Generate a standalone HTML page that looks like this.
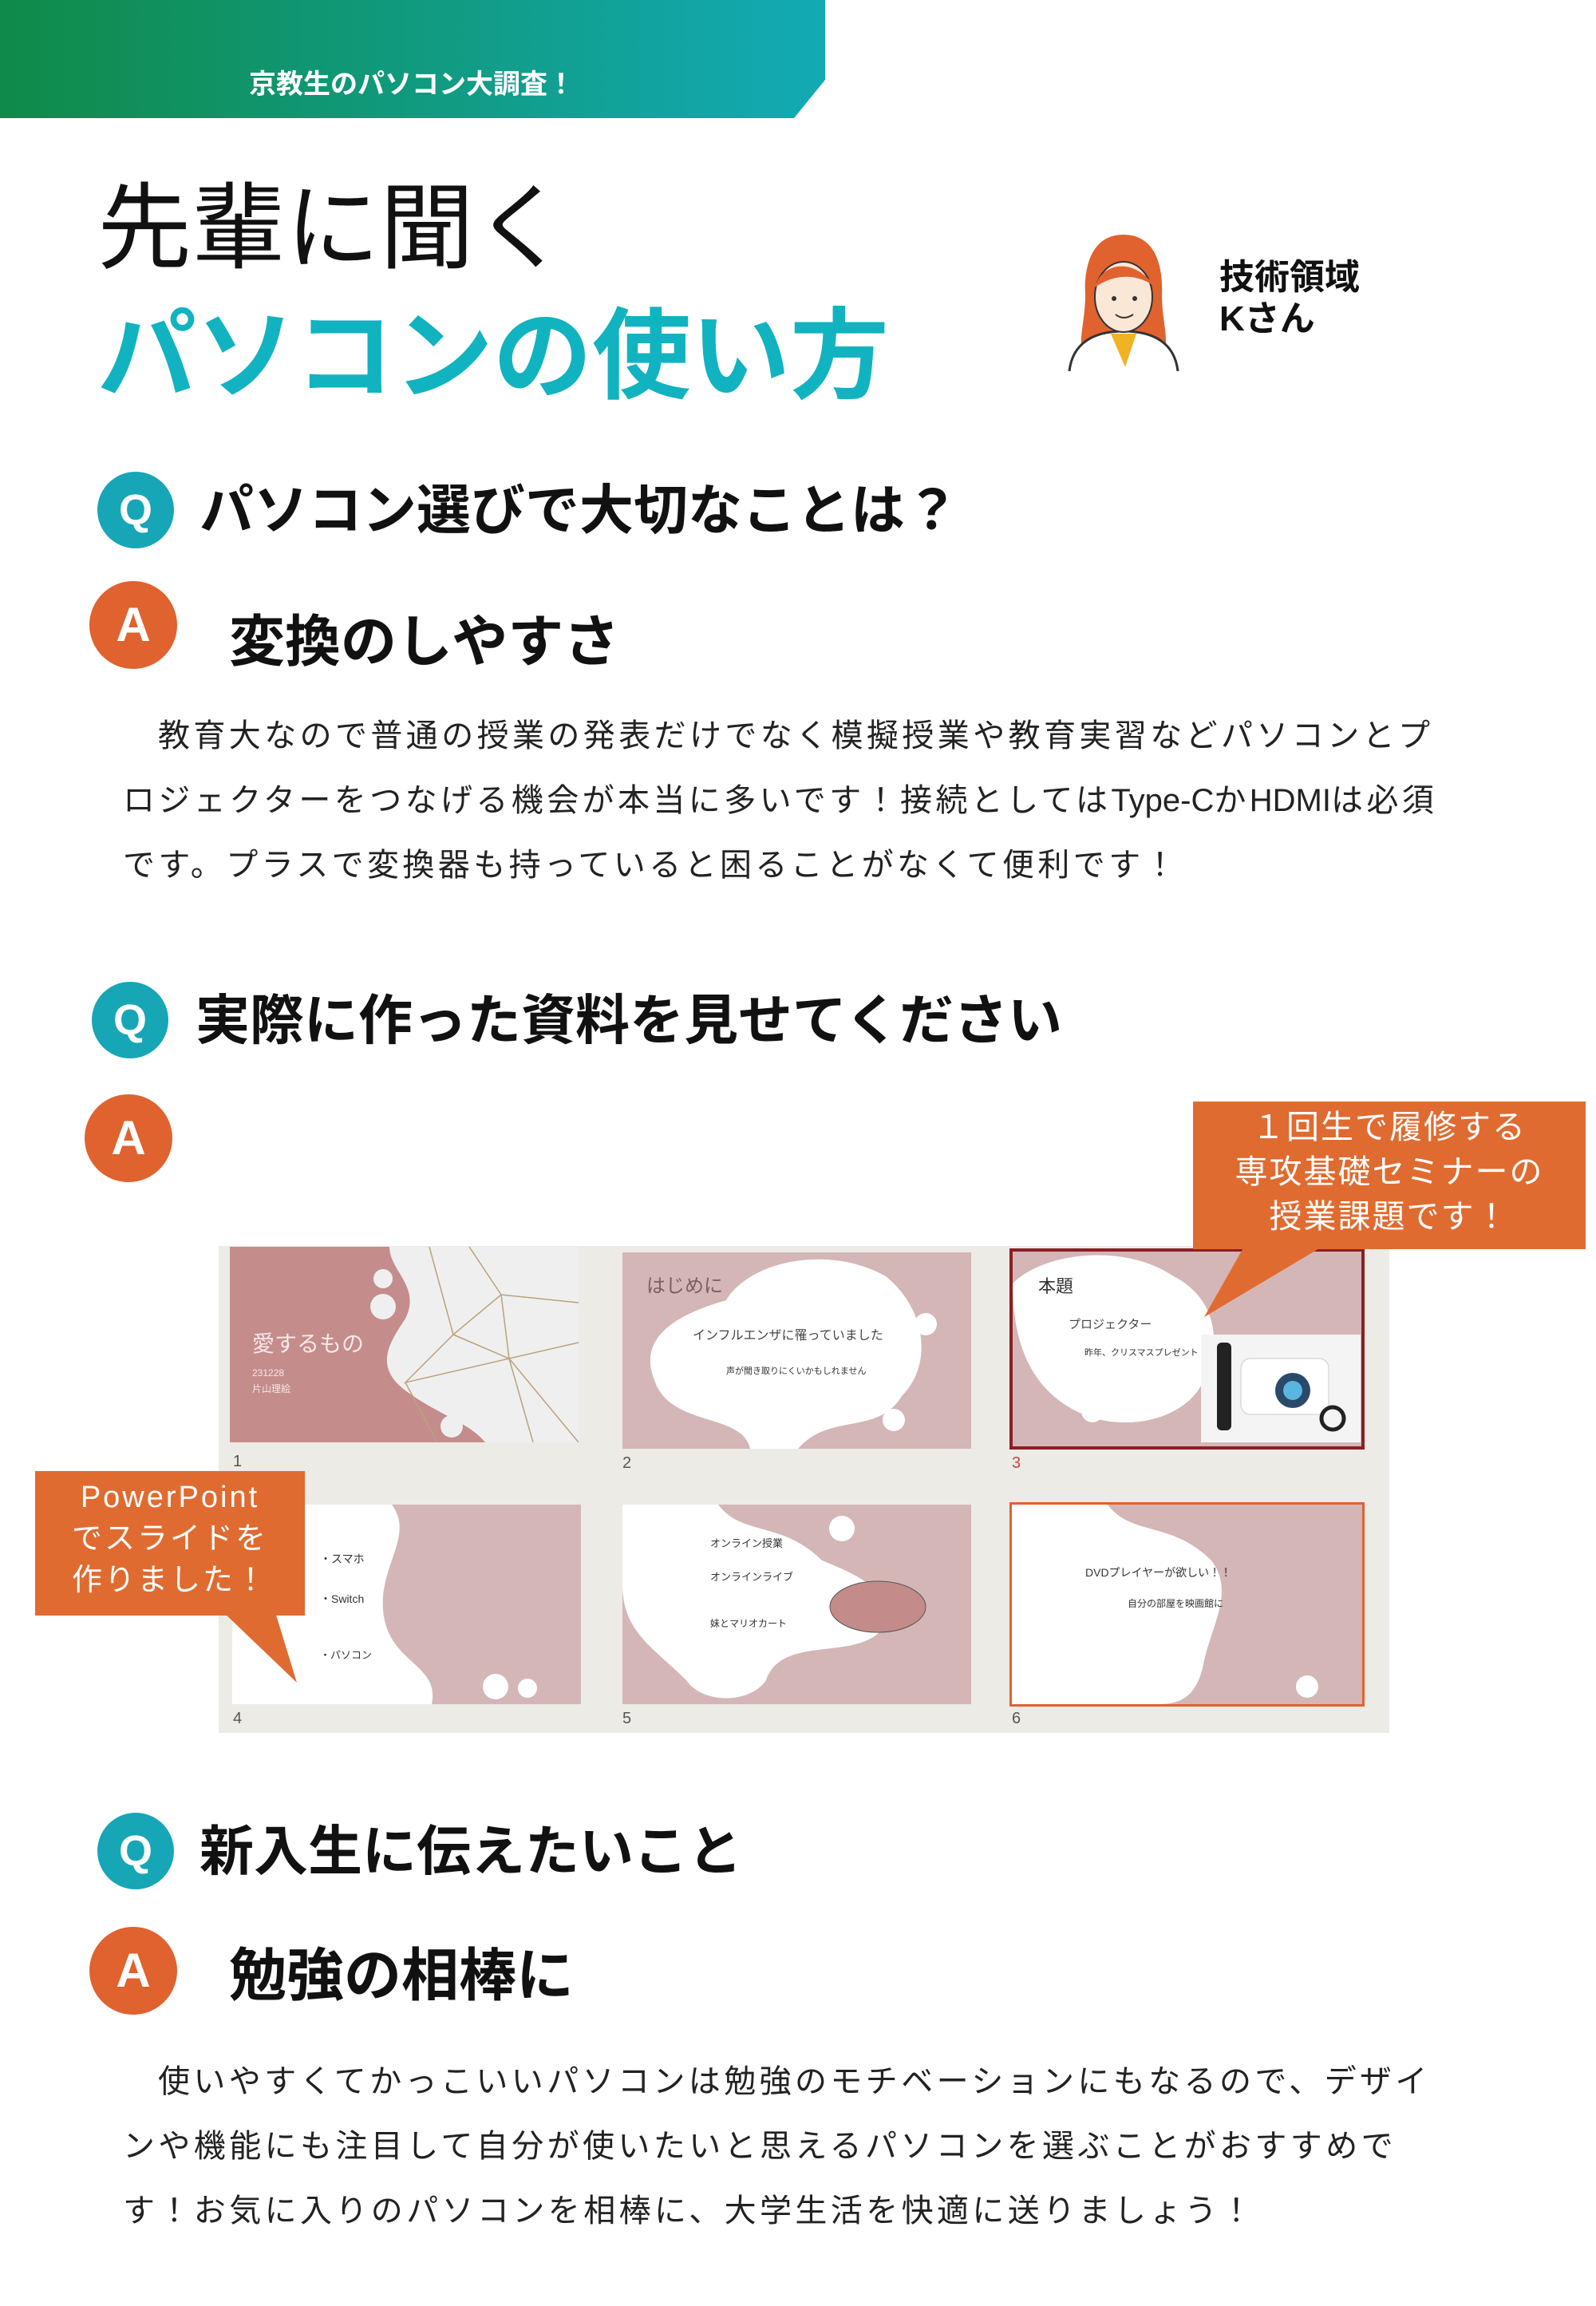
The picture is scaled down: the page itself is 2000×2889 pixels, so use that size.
<!DOCTYPE html>
<html><head><meta charset="utf-8"><style>
*{margin:0;padding:0;box-sizing:border-box}
body{width:2000px;height:2889px;background:#fff;position:relative;overflow:hidden;font-family:"Liberation Sans","Noto Sans CJK JP",sans-serif;color:#111}
.a{position:absolute;white-space:nowrap}
.circ{position:absolute;border-radius:50%;color:#fff;font-weight:bold;text-align:center;font-family:"Liberation Sans",sans-serif}
.q{background:#17a6b6;width:96px;height:96px;line-height:96px;font-size:54px}
.an{background:#e0622e;width:110px;height:110px;line-height:110px;font-size:60px}
.h{font-weight:bold;font-size:68px}
.p{font-size:40px;line-height:81px;color:#222;letter-spacing:4.4px}
.p i{font-style:normal;letter-spacing:0}
.slide{position:absolute;overflow:hidden;background:#d4b6b6}
.num{position:absolute;font-size:20px;color:#555}
</style></head><body>
<svg class="a" style="left:0;top:0" width="1040" height="150"><defs><linearGradient id="g" x1="0" x2="1"><stop offset="0" stop-color="#0f8a48"/><stop offset="1" stop-color="#12aab5"/></linearGradient></defs><polygon points="0,0 1034,0 1034,100 995,148 0,148" fill="url(#g)"/></svg>
<div class="a" style="left:312px;top:78px;font-size:34px;font-weight:bold;color:#fff">京教生のパソコン大調査！</div>
<div class="a" style="left:122px;top:190px;font-size:118px;color:#111">先輩に聞く</div>
<div class="a" style="left:122px;top:345px;font-size:124px;font-weight:bold;color:#12b3c0">パソコンの使い方</div>
<svg class="a" style="left:1330px;top:290px" width="160" height="180">
<path d="M78 4 C40 4 28 40 30 80 C30 110 22 130 26 150 L130 150 C134 130 126 110 126 80 C128 40 116 4 78 4Z" fill="#e0622e"/>
<path d="M10 175 C14 140 40 125 78 125 C116 125 142 140 146 175" fill="#fff" stroke="#333" stroke-width="3"/>
<polygon points="62,128 94,128 80,170" fill="#f0b323"/>
<ellipse cx="78" cy="82" rx="36" ry="44" fill="#fbe7d6" stroke="#333" stroke-width="2"/>
<path d="M42 70 C50 40 90 30 118 70 C100 55 70 50 42 70Z" fill="#e0622e"/>
<circle cx="66" cy="84" r="3" fill="#333"/><circle cx="92" cy="84" r="3" fill="#333"/>
<path d="M68 104 Q78 112 90 104" stroke="#333" stroke-width="2" fill="none"/></svg>
<div class="a" style="left:1528px;top:322px;font-size:44px;font-weight:bold;line-height:52px">技術領域<br>Kさん</div>

<div class="circ q" style="left:122px;top:591px">Q</div>
<div class="a h" style="left:250px;top:584px">パソコン選びで大切なことは？</div>
<div class="circ an" style="left:112px;top:728px">A</div>
<div class="a h" style="left:287px;top:748px;font-size:70px">変換のしやすさ</div>
<div class="a p" style="left:154px;top:882px;white-space:normal;width:1662px;text-indent:44px">教育大なので普通の授業の発表だけでなく模擬授業や教育実習などパソコンとプロジェクターをつなげる機会が本当に多いです！接続としては<i>Type-C</i>か<i>HDMI</i>は必須です。プラスで変換器も持っていると困ることがなくて便利です！</div>

<div class="circ q" style="left:115px;top:1230px">Q</div>
<div class="a h" style="left:245px;top:1223px">実際に作った資料を見せてください</div>
<div class="circ an" style="left:106px;top:1371px">A</div>

<div class="a" style="left:274px;top:1561px;width:1467px;height:610px;background:#ecebe5"></div>
<div class="slide" style="left:288px;top:1562px;width:437px;height:245px;background:#c58c8c">
<svg width="437" height="245" style="position:absolute;left:0;top:0"><path d="M200 0 L437 0 L437 245 L320 245 C300 220 260 210 220 180 C180 150 200 120 220 90 C240 50 200 30 200 0Z" fill="#f0efef"/>
<g stroke="#b9a27a" stroke-width="1.5" fill="none"><path d="M250 0 L280 110 L340 60 L437 70 M280 110 L220 170 L350 140 L380 245 M340 60 L350 140 L437 120 M220 170 L260 245 M280 110 L350 140 M300 0 L340 60 M350 140 L437 245"/></g>
<circle cx="192" cy="40" r="12" fill="#f0efef"/><circle cx="192" cy="75" r="16" fill="#f0efef"/><circle cx="278" cy="225" r="14" fill="#f0efef"/></svg>
<div class="a" style="left:28px;top:100px;font-size:28px;color:#f5e8e8">愛するもの</div>
<div class="a" style="left:28px;top:148px;font-size:12px;color:#f5e8e8;line-height:20px">231228<br>片山理絵</div></div>
<div class="num" style="left:292px;top:1820px">1</div>

<div class="slide" style="left:780px;top:1569px;width:437px;height:246px">
<svg width="437" height="246" style="position:absolute"><path d="M130 60 C160 10 260 -10 330 30 C380 70 390 140 350 180 C320 230 260 200 220 246 L160 246 C150 200 60 220 40 160 C20 110 60 80 130 60Z" fill="#fff"/><circle cx="340" cy="210" r="14" fill="#fff"/><circle cx="380" cy="90" r="14" fill="#fff"/></svg>
<div class="a" style="left:30px;top:22px;font-size:24px;color:#7a6060">はじめに</div>
<div class="a" style="left:88px;top:90px;font-size:16px;color:#444">インフルエンザに罹っていました</div>
<div class="a" style="left:130px;top:140px;font-size:11px;color:#333">声が聞き取りにくいかもしれません</div></div>
<div class="num" style="left:780px;top:1822px">2</div>

<div class="slide" style="left:1265px;top:1564px;width:445px;height:252px;border:4px solid #8a1f24">
<svg width="437" height="244" style="position:absolute"><path d="M0 40 C40 0 140 -10 200 30 C260 60 260 120 240 160 C220 210 140 230 80 200 C20 170 0 110 0 40Z" fill="#fff"/><circle cx="100" cy="200" r="14" fill="#fff"/></svg>
<div class="a" style="left:236px;top:104px;width:200px;height:135px;background:#f4f4f4"></div>
<svg width="200" height="135" style="position:absolute;left:236px;top:104px"><rect x="50" y="30" width="110" height="70" rx="12" fill="#fff" stroke="#ccc"/><circle cx="115" cy="70" r="22" fill="#2a4a6a"/><circle cx="115" cy="70" r="12" fill="#59b6e0"/><rect x="20" y="10" width="18" height="110" rx="6" fill="#222"/><circle cx="165" cy="105" r="14" fill="none" stroke="#222" stroke-width="5"/></svg>
<div class="a" style="left:32px;top:26px;font-size:22px;color:#333">本題</div>
<div class="a" style="left:70px;top:80px;font-size:15px;color:#444">プロジェクター</div>
<div class="a" style="left:90px;top:118px;font-size:11px;color:#333">昨年、クリスマスプレゼント</div></div>
<div class="num" style="left:1268px;top:1822px;color:#c44">3</div>

<div class="slide" style="left:291px;top:1885px;width:437px;height:250px">
<svg width="437" height="250" style="position:absolute"><path d="M0 0 L200 0 C230 40 180 80 190 140 C200 200 260 200 250 250 L0 250Z" fill="#fff"/><circle cx="60" cy="30" r="14" fill="#fff"/><circle cx="330" cy="228" r="16" fill="#fff"/><circle cx="370" cy="230" r="12" fill="#fff"/></svg>
<div class="a" style="left:110px;top:58px;font-size:14px;color:#333">・スマホ</div>
<div class="a" style="left:110px;top:108px;font-size:14px;color:#333">・Switch</div>
<div class="a" style="left:110px;top:178px;font-size:13px;color:#333">・パソコン</div></div>
<div class="num" style="left:292px;top:2142px">4</div>

<div class="slide" style="left:780px;top:1885px;width:437px;height:250px">
<svg width="437" height="250" style="position:absolute"><path d="M0 0 L120 0 C150 40 200 20 250 70 C300 90 340 110 330 150 C300 200 200 160 180 220 C160 250 100 250 80 220 C40 180 0 160 0 100Z" fill="#fff"/><circle cx="275" cy="30" r="16" fill="#fff"/><circle cx="100" cy="200" r="12" fill="#fff"/><ellipse cx="320" cy="128" rx="60" ry="32" fill="#c48b8b" stroke="#555"/></svg>
<div class="a" style="left:110px;top:38px;font-size:13px;color:#333">オンライン授業</div>
<div class="a" style="left:110px;top:80px;font-size:13px;color:#333">オンラインライブ</div>
<div class="a" style="left:110px;top:140px;font-size:12px;color:#333">妹とマリオカート</div></div>
<div class="num" style="left:780px;top:2142px">5</div>

<div class="slide" style="left:1265px;top:1882px;width:445px;height:256px;border:3px solid #e0622e">
<svg width="440" height="250" style="position:absolute"><path d="M0 0 L120 0 C150 40 200 20 250 70 C280 110 250 150 240 200 C230 250 200 250 180 250 L0 250Z" fill="#fff"/><circle cx="60" cy="40" r="14" fill="#fff"/><circle cx="370" cy="228" r="14" fill="#fff"/></svg>
<div class="a" style="left:92px;top:75px;font-size:14px;color:#333">DVDプレイヤーが欲しい！！</div>
<div class="a" style="left:145px;top:115px;font-size:12px;color:#333">自分の部屋を映画館に</div></div>
<div class="num" style="left:1268px;top:2142px">6</div>

<svg class="a" style="left:0;top:0" width="2000" height="2889">
<rect x="1495" y="1380" width="492" height="185" fill="#e06b30"/><polygon points="1560,1560 1660,1560 1509,1650" fill="#e06b30"/>
<rect x="44" y="1843" width="338" height="181" fill="#e06b30"/><polygon points="280,2020 345,2020 372,2108" fill="#e06b30"/></svg>
<div class="a" style="left:1495px;top:1384px;width:492px;text-align:center;font-size:41px;line-height:56px;color:#fff;letter-spacing:2px">１回生で履修する<br>専攻基礎セミナーの<br>授業課題です！</div>
<div class="a" style="left:44px;top:1850px;width:338px;text-align:center;font-size:38px;line-height:52px;color:#fff;letter-spacing:3px">PowerPoint<br>でスライドを<br>作りました！</div>

<div class="circ q" style="left:122px;top:2271px">Q</div>
<div class="a h" style="left:250px;top:2264px">新入生に伝えたいこと</div>
<div class="circ an" style="left:112px;top:2414px">A</div>
<div class="a h" style="left:287px;top:2416px;font-size:72px">勉強の相棒に</div>
<div class="a p" style="left:154px;top:2568px;white-space:normal;width:1662px;text-indent:44px">使いやすくてかっこいいパソコンは勉強のモチベーションにもなるので、デザインや機能にも注目して自分が使いたいと思えるパソコンを選ぶことがおすすめです！お気に入りのパソコンを相棒に、大学生活を快適に送りましょう！</div>
</body></html>
